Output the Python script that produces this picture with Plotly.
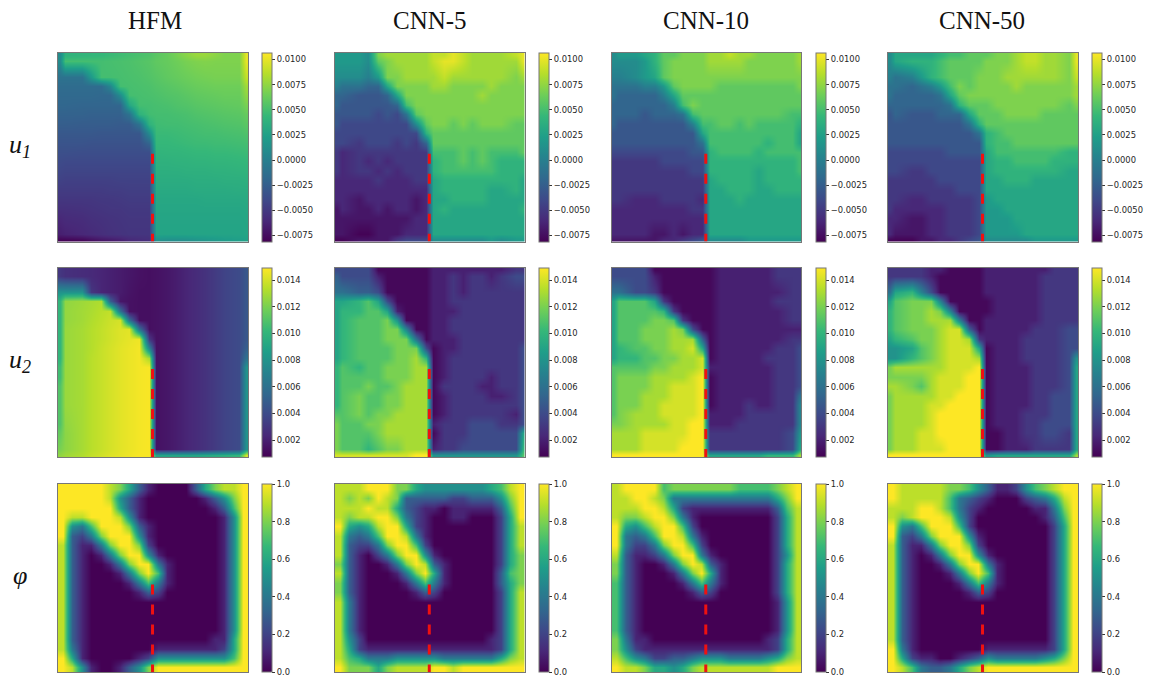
import numpy as np
import plotly.graph_objects as go

column_titles = ["HFM", "CNN-5", "CNN-10", "CNN-50"]
row_titles = ["<i>u<sub>1</sub></i>", "<i>u<sub>2</sub></i>", "<i>φ</i>"]

# sample positions of the displacement grids (tighter at the crack line and the edges)
grid_u_x = [-0.3,0.2,2,3,4,5,6,7,8,9.1,9.8,11,12,13,14,15,16,17,18.6,19.3]
grid_u_y = [-0.3,0.3,2,3,4,5,6,7,8,9,10,11,12,13,14,15,16,17,18.7,19.3]
grid_phi = list(range(20))

# u1 fields, in thousandths, rows from top to bottom
u1_hfm = [
[1,4,4.2,4.3,4.4,4.6,4.8,5,5.2,5.4,5.8,6.2,6.8,7.3,7.8,7.8,7.4,7,7,10],
[1,5,5,5,5,5.1,5.2,5.3,5.5,5.7,6,6.2,6.5,6.8,7,7.1,7,7,7,10],
[-1,-1,-1,2,5,5,5.1,5.2,5.3,5.5,5.7,6,6.2,6.4,6.6,6.7,6.8,6.8,6.8,9],
[-1.5,-1.5,-1.5,-1.5,-1.5,0.5,5,5.1,5.2,5.3,5.5,5.7,5.9,6.1,6.3,6.4,6.5,6.5,6.5,8],
[-1.7,-1.7,-1.7,-1.7,-1.8,-1.8,1,5,5.1,5.2,5.3,5.5,5.6,5.8,6,6.1,6.2,6.3,6.3,7.5],
[-1.9,-1.9,-2,-2,-2,-2,-2,3,5,5,5.1,5.2,5.4,5.5,5.7,5.8,5.9,6,6.1,6.8],
[-2.2,-2.2,-2.2,-2.3,-2.3,-2.3,-2.3,-1,4,4.9,5,5,5.1,5.2,5.4,5.5,5.6,5.7,5.8,6.2],
[-2.5,-2.5,-2.6,-2.6,-2.6,-2.6,-2.7,-2.7,-1,4,4.8,4.9,4.9,5,5.1,5.2,5.3,5.4,5.5,5.8],
[-2.9,-2.9,-2.9,-2.9,-3,-3,-3,-3,-3,1,4.6,4.6,4.7,4.8,4.9,5,5,5.1,5.2,5.4],
[-3.2,-3.2,-3.2,-3.3,-3.3,-3.3,-3.3,-3.3,-3.3,-2,4.4,4.4,4.5,4.6,4.7,4.7,4.8,4.8,4.9,5],
[-3.5,-3.5,-3.6,-3.6,-3.6,-3.6,-3.6,-3.6,-3.6,-3.6,4.1,4.2,4.2,4.3,4.4,4.4,4.5,4.5,4.6,4.7],
[-3.8,-3.9,-3.9,-3.9,-3.9,-3.9,-3.9,-3.9,-3.9,-3.9,3.9,3.9,4,4,4.1,4.1,4.2,4.2,4.3,4.4],
[-4.1,-4.2,-4.2,-4.2,-4.2,-4.2,-4.2,-4.2,-4.2,-4.2,3.7,3.7,3.7,3.8,3.8,3.8,3.9,3.9,4,4.1],
[-4.4,-4.5,-4.5,-4.5,-4.5,-4.5,-4.4,-4.4,-4.4,-4.4,3.5,3.5,3.5,3.5,3.6,3.6,3.6,3.7,3.7,3.8],
[-4.8,-4.8,-4.8,-4.8,-4.8,-4.7,-4.7,-4.6,-4.6,-4.6,3.3,3.3,3.3,3.3,3.4,3.4,3.4,3.4,3.5,3.5],
[-5.1,-5.1,-5.1,-5.1,-5,-5,-4.9,-4.8,-4.8,-4.8,3.1,3.1,3.1,3.1,3.1,3.2,3.2,3.2,3.2,3.3],
[-5.5,-5.5,-5.4,-5.3,-5.2,-5.1,-5.1,-5,-5,-5,3,3,3,3,3,3,3,3,3,3.1],
[-6,-5.8,-5.7,-5.5,-5.4,-5.3,-5.2,-5.1,-5.1,-5.1,2.9,2.9,2.9,2.9,2.9,2.9,2.9,2.9,2.9,3],
[-6.5,-6.3,-6,-5.8,-5.6,-5.4,-5.3,-5.2,-5.2,-5.2,2.8,2.8,2.8,2.8,2.8,2.8,2.8,2.8,2.8,2.9],
[-8,-8,-7.8,-7.4,-7,-6.8,-6.5,-6,-5.8,-5.6,1.5,1.2,1.2,1.3,1.6,1.8,2,2.2,2.4,2.6],
]
u1_cnn5 = [
[2,2,2,1,7,8,8,8,8,8,9,9,10,9,8,8,8,8,9,10],
[2,2,2,1,6,7,8,8,8,8,9,10,10,9,8,8,8,8,8,10],
[1,1,1,0,2,7,7,8,8,8,8,9,8,8,8,8,8,8,7,8],
[0,-1,-1,-2,-2,3,7,7,7,7,8,8,7,7,7,7,8,7,7,7],
[-2,-2,-3,-3,-3,-2,3,7,7,7,7,7,7,7,7,8,7,7,7,7],
[-2,-3,-3,-3,-3,-3,-2,5,7,7,7,7,7,7,7,7,7,7,7,7],
[-3,-3,-3,-3,-4,-3,-4,-1,6,7,7,7,7,7,7,7,7,7,7,7],
[-3,-4,-4,-4,-4,-4,-4,-4,1,6,7,7,6,7,6,7,7,7,6,6],
[-4,-4,-4,-4,-4,-4,-4,-4,-4,4,6,6,6,6,6,6,6,6,6,6],
[-4,-4,-5,-4,-4,-4,-5,-4,-5,-2,6,6,6,6,6,6,6,6,6,6],
[-5,-6,-5,-5,-5,-5,-5,-5,-5,-5,5,5,5,6,5,6,5,5,5,6],
[-5,-6,-5,-6,-5,-6,-5,-5,-5,-5,4,5,5,6,5,6,5,4,4,4],
[-5,-6,-5,-5,-6,-5,-6,-5,-5,-5,4,5,5,5,5,5,5,4,4,4],
[-6,-6,-6,-6,-5,-6,-6,-6,-5,-5,3,4,4,4,4,4,4,4,4,3],
[-6,-6,-6,-6,-6,-6,-6,-6,-6,-6,3,4,4,4,4,4,3,3,4,3],
[-6,-6,-7,-6,-6,-6,-6,-6,-7,-6,3,3,4,4,4,4,3,3,3,3],
[-7,-6,-7,-7,-6,-7,-6,-6,-7,-6,3,4,3,3,3,3,3,3,3,4],
[-7,-7,-7,-7,-7,-7,-7,-7,-6,-6,3,3,3,3,3,3,3,3,3,3],
[-7,-7,-8,-8,-7,-7,-7,-6,-6,-6,3,3,3,3,3,3,3,3,3,3],
[-8,-8,-7,-7,-7,-7,-5,-4,-4,-4,1,1,1,1,1,1,2,1,2,2],
]
u1_cnn10 = [
[1,2,2,3,4,6,6,7,7,7,8,8,9,8,8,7,7,7,7,8],
[1,1,1,2,4,6,7,7,7,7,8,8,8,8,7,7,7,7,7,8],
[0,0,1,2,3,6,7,7,7,7,7,7,7,7,7,7,7,7,7,7],
[-1,-1,-1,0,0,2,6,7,7,7,7,6,6,6,6,6,6,6,6,7],
[-1,-2,-2,-2,-2,0,3,6,6,6,6,6,6,6,6,6,6,6,6,6],
[-2,-2,-2,-2,-2,-2,0,5,7,6,6,6,6,6,6,6,6,6,6,6],
[-2,-2,-2,-3,-2,-2,-2,-1,5,6,6,6,6,6,6,6,6,6,5,5],
[-2,-3,-3,-3,-3,-3,-3,-3,0,5,5,6,6,5,6,5,5,5,5,4],
[-3,-3,-3,-3,-3,-3,-3,-3,-3,3,5,5,5,5,5,5,5,5,5,3],
[-3,-3,-3,-3,-3,-3,-3,-3,-3,-1,5,5,5,5,5,5,4,5,5,3],
[-4,-4,-4,-4,-4,-4,-4,-4,-3,-3,4,5,5,5,5,4,5,5,5,5],
[-5,-5,-5,-5,-5,-4,-4,-4,-4,-4,4,4,4,4,4,4,4,4,4,5],
[-5,-5,-5,-5,-5,-5,-5,-5,-4,-4,4,4,4,4,4,3,4,4,4,5],
[-5,-5,-5,-5,-5,-5,-5,-5,-5,-5,3,4,4,4,4,3,4,4,4,4],
[-5,-5,-5,-5,-5,-5,-5,-5,-5,-5,3,3,4,4,4,3,3,4,4,4],
[-5,-5,-6,-6,-6,-5,-5,-5,-5,-6,3,3,3,4,3,3,3,3,3,3],
[-6,-6,-6,-6,-6,-6,-6,-6,-5,-5,3,3,3,3,3,3,3,3,3,3],
[-6,-6,-6,-6,-6,-6,-6,-6,-6,-6,3,3,3,3,3,3,3,3,3,3],
[-6,-6,-6,-6,-7,-7,-6,-7,-6,-6,3,3,3,3,3,3,3,3,3,3],
[-7,-7,-7,-7,-7,-6,-6,-5,-4,-3,1,1,1,1,2,2,2,2,2,2],
]
u1_cnn50 = [
[1,3,3,3,3,4,5,5,6,6,6,7,7,8,9,9,8,8,7,10],
[1,3,4,4,4,5,6,6,6,6,7,7,7,8,9,9,8,8,7,10],
[0,-1,0,2,4,5,6,6,6,7,7,7,8,8,8,8,8,8,7,9],
[-1,-1,-2,-1,0,2,5,7,6,7,7,7,7,8,7,7,7,7,7,8],
[-1,-2,-2,-2,-2,-1,3,6,7,7,7,7,7,7,7,7,7,7,7,8],
[-2,-2,-2,-2,-2,-2,-1,4,6,6,6,7,7,7,7,7,7,7,6,7],
[-3,-2,-3,-3,-3,-2,-2,-2,3,6,6,6,7,7,7,7,6,6,6,6],
[-3,-3,-3,-3,-3,-3,-3,-3,-1,4,6,6,6,6,6,6,6,6,6,6],
[-3,-3,-3,-3,-3,-3,-3,-3,-3,-1,4,5,6,6,6,6,6,6,6,6],
[-3,-3,-3,-3,-3,-3,-3,-3,-3,-3,4,5,5,6,6,6,6,6,6,6],
[-4,-4,-4,-4,-4,-4,-3,-3,-3,-3,3,5,5,5,5,5,5,5,4,4],
[-4,-4,-4,-4,-4,-4,-4,-4,-4,-4,3,4,4,5,5,5,5,4,4,4],
[-4,-4,-5,-5,-4,-4,-4,-4,-4,-4,3,4,4,4,4,4,4,4,3,3],
[-5,-5,-5,-5,-5,-4,-4,-4,-4,-4,3,3,4,4,4,3,3,3,3,3],
[-5,-5,-5,-5,-5,-5,-5,-4,-4,-4,3,3,3,3,3,3,3,3,3,3],
[-5,-5,-6,-6,-5,-5,-5,-5,-5,-4,2,3,3,3,3,3,3,3,3,3],
[-5,-6,-6,-6,-6,-6,-5,-5,-5,-4,2,2,3,3,3,3,3,3,3,3],
[-6,-6,-7,-7,-6,-6,-5,-5,-5,-4,2,2,2,3,3,3,3,3,3,3],
[-6,-7,-7,-7,-6,-6,-5,-5,-5,-4,2,2,2,2,3,3,3,3,3,3],
[-8,-8,-8,-7,-7,-6,-6,-5,-4,-3,1,1,1,1,1,2,2,2,2,2],
]

# u2 fields, in thousandths
u2_hfm = [
[3,2.7,2.5,2.4,2.2,2,1.8,1.6,1.4,1.3,1.4,1.6,1.9,2.2,2.5,2.8,3.2,3.6,4,4.6],
[3,2.7,2.5,2.4,2.2,2,1.8,1.6,1.4,1.3,1.4,1.6,1.9,2.2,2.5,2.8,3.2,3.6,4,4.6],
[8,8,8,3,2.2,2,1.8,1.5,1.3,1.3,1.4,1.6,1.9,2.2,2.5,2.8,3.2,3.6,4,4.6],
[10,12.5,12.8,13,13.2,5,1.6,1.4,1.3,1.3,1.4,1.6,1.9,2.2,2.5,2.8,3.2,3.6,4,4.6],
[10,12.6,12.9,13.1,13.4,13.6,6,1.4,1.3,1.3,1.4,1.6,1.9,2.2,2.5,2.8,3.2,3.6,4,4.6],
[10,12.6,12.9,13.2,13.5,13.8,14,6,1.3,1.3,1.4,1.6,1.9,2.2,2.5,2.8,3.2,3.6,4,4.6],
[10,12.7,13,13.3,13.6,13.9,14.2,14.3,6,1.3,1.4,1.6,1.9,2.2,2.5,2.8,3.2,3.6,4,4.6],
[10,12.7,13,13.3,13.6,13.9,14.2,14.4,14.6,3,1.4,1.6,1.9,2.2,2.5,2.8,3.2,3.6,4,4.6],
[10,12.7,13,13.3,13.7,14,14.3,14.5,14.7,7,1.4,1.6,1.9,2.2,2.5,2.8,3.2,3.6,4,5],
[10,12.7,13,13.4,13.7,14,14.3,14.5,14.7,13,1.4,1.6,1.9,2.2,2.5,2.8,3.2,3.6,4,6],
[10.5,12.7,13,13.4,13.7,14,14.3,14.5,14.7,14.8,1.4,1.6,1.9,2.2,2.5,2.8,3.2,3.6,4,8],
[10.5,12.7,13,13.4,13.7,14,14.3,14.5,14.7,14.8,1.4,1.6,1.9,2.2,2.5,2.8,3.2,3.6,4,8],
[11,12.7,13,13.4,13.7,14,14.3,14.5,14.7,14.8,1.4,1.6,1.9,2.2,2.5,2.8,3.2,3.6,4,8],
[11,12.7,13,13.4,13.7,14,14.3,14.5,14.7,14.8,1.4,1.6,1.9,2.2,2.5,2.8,3.2,3.6,4,8],
[11,12.7,13,13.4,13.7,14,14.3,14.5,14.7,14.8,1.4,1.6,1.9,2.2,2.5,2.8,3.2,3.6,4,8],
[11,12.6,13,13.4,13.7,14,14.3,14.5,14.7,14.8,1.4,1.6,1.9,2.2,2.5,2.8,3.2,3.6,4,8],
[11,12.5,13,13.4,13.7,14,14.3,14.5,14.7,14.8,1.4,1.6,1.9,2.2,2.5,2.8,3.2,3.6,4,8],
[11.5,12.4,13,13.4,13.7,14,14.3,14.5,14.7,14.8,1.4,1.6,1.9,2.2,2.5,2.8,3.2,3.6,4,8],
[12,12.4,13,13.4,13.7,14,14.3,14.5,14.7,14.8,1.4,1.6,1.9,2.2,2.5,2.8,3.2,3.6,4,8],
[12.5,12.8,13.2,13.6,13.9,14.2,14.4,14.6,14.8,14.8,9,9,9,9,9,9.2,9.4,9.6,10,14],
]
u2_cnn5 = [
[4,4,4,4,1,1,1,1,1,1,2,2,2,2,2,2,2,2,3,3],
[5,4,4,4,2,1,1,1,1,1,2,2,3,2,3,3,2,3,4,4],
[6,6,5,5,4,1,1,1,1,1,2,2,3,2,3,3,3,3,3,3],
[9,9,10,11,9,4,1,1,1,1,2,2,3,3,3,3,3,3,3,3],
[9,10,10,11,11,9,2,1,1,1,2,2,2,3,3,3,3,3,3,3],
[9,10,11,11,11,12,8,1,1,1,2,2,3,3,3,3,3,3,3,3],
[9,10,11,11,11,12,12,7,1,1,2,2,3,3,3,3,3,3,3,3],
[9,10,11,11,11,12,12,12,6,1,2,2,2,3,3,3,3,3,3,3],
[9,10,11,11,11,11,12,12,12,4,1,2,2,3,3,3,3,3,3,4],
[9,10,11,11,11,11,12,12,13,10,1,2,3,3,3,3,3,3,3,4],
[10,11,10,11,11,12,12,12,13,13,1,2,3,3,3,3,3,3,3,4],
[10,11,11,11,11,12,12,12,13,13,1,2,3,3,3,3,2,3,3,4],
[10,11,11,12,11,11,12,13,13,13,1,3,3,3,3,2,2,3,3,4],
[10,11,12,11,11,12,12,13,13,13,1,2,3,3,3,3,2,2,3,4],
[10,11,12,11,11,12,12,13,13,13,1,2,3,3,3,3,3,3,3,4],
[11,11,12,11,12,12,13,13,13,13,1,2,3,3,3,3,3,3,2,4],
[12,11,11,12,12,13,13,13,13,13,2,3,3,3,4,4,4,3,3,4],
[12,11,11,11,12,13,13,13,13,13,1,3,3,3,4,4,4,4,4,9],
[12,11,11,10,11,12,12,13,13,13,2,3,3,4,4,4,4,4,4,10],
[14,14,14,14,14,14,14,14,15,15,8,8,8,8,8,8,8,8,8,11],
]
u2_cnn10 = [
[4,4,4,4,1,1,1,1,1,1,1,2,2,2,2,2,2,3,3,3],
[4,4,4,4,2,1,1,1,1,1,1,2,2,2,2,2,2,3,3,3],
[6,6,4,4,3,1,1,1,1,1,1,2,2,2,2,2,2,2,3,3],
[9,11,11,11,9,3,1,1,1,1,1,2,2,2,2,2,2,3,3,3],
[9,11,11,11,11,10,3,1,1,1,1,2,2,2,2,2,2,2,3,3],
[9,11,11,11,12,12,11,3,1,1,1,2,2,2,2,2,2,2,3,3],
[9,11,11,12,12,12,13,12,4,1,1,2,2,2,2,2,2,2,2,2],
[9,11,11,12,12,12,13,13,13,5,1,2,2,2,2,2,2,2,3,3],
[9,10,11,11,12,12,13,13,14,9,1,2,2,2,2,2,2,3,3,4],
[9,10,10,11,11,12,12,13,13,14,1,2,2,2,2,2,3,3,3,4],
[11,11,11,11,12,12,13,13,13,14,2,2,2,2,2,2,2,3,3,4],
[11,12,12,12,13,13,13,13,14,15,1,2,2,2,2,2,2,3,3,4],
[11,12,12,12,13,13,14,14,14,15,1,2,2,2,2,2,2,3,3,4],
[11,12,12,13,13,13,14,14,14,15,1,2,2,2,2,2,2,3,3,6],
[11,12,12,13,13,14,14,14,14,15,1,2,2,2,3,2,2,3,3,7],
[11,12,13,13,13,14,14,14,14,15,2,2,2,2,3,3,3,3,3,7],
[12,12,13,13,13,13,14,14,15,15,2,2,2,3,3,3,3,3,3,7],
[13,13,13,14,14,14,14,14,15,15,3,3,3,3,3,3,3,3,4,8],
[13,13,13,14,14,14,14,15,15,15,3,3,3,3,3,3,3,3,4,9],
[15,15,15,15,15,15,15,15,15,15,9,9,9,9,9,9,10,10,10,13],
]
u2_cnn50 = [
[3,3,3,3,2,2,1,1,1,1,2,2,2,2,2,2,2,3,3,3],
[3,3,3,3,2,1,1,1,1,1,2,2,2,2,2,2,3,3,3,3],
[6,9,10,7,4,1,1,1,1,1,2,2,2,2,2,2,3,3,3,3],
[9,11,12,12,12,7,1,1,1,1,1,2,2,2,2,2,3,3,3,3],
[10,11,12,12,13,12,7,1,1,1,1,2,2,2,2,2,3,3,3,3],
[10,11,12,12,13,13,13,7,1,1,2,2,2,2,2,2,3,3,3,3],
[10,11,12,12,12,13,14,14,5,1,2,2,2,2,2,3,3,3,4,4],
[9,10,11,12,12,13,14,14,13,3,2,2,2,2,3,3,3,3,4,4],
[8,8,9,11,12,13,14,14,14,9,1,2,2,2,3,3,3,3,4,4],
[8,8,10,11,12,13,14,14,14,13,1,2,2,2,3,3,3,3,4,8],
[12,13,13,13,13,13,14,14,14,15,1,2,2,2,2,3,3,3,4,9],
[12,12,12,12,13,14,14,14,15,15,1,2,2,2,2,3,3,3,4,9],
[13,13,12,11,13,14,14,14,15,15,1,2,2,2,2,3,3,3,4,9],
[12,13,13,13,13,14,14,15,15,15,1,2,2,2,2,3,3,4,4,9],
[12,13,13,13,14,14,15,15,15,15,1,2,2,2,2,3,3,4,4,9],
[12,13,13,13,14,15,15,15,15,15,1,2,2,2,3,3,3,4,4,9],
[12,13,13,13,14,15,15,15,15,15,1,2,2,2,3,3,4,4,4,9],
[12,13,13,14,14,15,15,15,15,15,1,1,2,2,3,3,4,4,3,9],
[12,13,13,14,14,14,15,15,15,15,1,1,2,2,2,3,3,3,3,9],
[15,15,15,15,15,15,15,15,15,15,8,9,9,9,9,9,9,9,9,13],
]

# phase field, in tenths
phi_hfm = [
[10,10,10,10,10,9,8,6,3,1,0,0,0,0,3,6,8,9,9,10],
[10,10,10,10,10,9,5,3,1,0,0,0,0,0,0,1,3,5,8,10],
[10,10,10,10,10,10,6,3,1,0,0,0,0,0,0,0,1,3,7,10],
[10,9,9,10,10,10,9,5,1,0,0,0,0,0,0,0,0,1,5,10],
[10,5,4,7,10,10,10,8,3,1,0,0,0,0,0,0,0,1,5,10],
[10,3,2,4,8,10,10,10,5,1,0,0,0,0,0,0,0,1,5,10],
[9,3,1,1,4,8,10,10,8,2,0,0,0,0,0,0,0,1,5,10],
[9,3,1,0,1,4,8,10,10,5,1,0,0,0,0,0,0,1,5,10],
[9,3,1,0,0,1,4,8,10,10,4,1,0,0,0,0,0,1,5,10],
[9,3,1,0,0,0,1,4,8,10,7,1,0,0,0,0,0,1,5,10],
[9,3,1,0,0,0,0,1,4,7,4,1,0,0,0,0,0,1,5,10],
[9,3,1,0,0,0,0,0,1,3,2,0,0,0,0,0,0,1,5,10],
[9,3,1,0,0,0,0,0,0,0,0,0,0,0,0,0,0,1,5,10],
[9,3,1,0,0,0,0,0,0,0,0,0,0,0,0,0,0,1,5,10],
[9,3,1,0,0,0,0,0,0,0,0,0,0,0,0,0,0,1,5,10],
[9,3,1,0,0,0,0,0,0,0,0,0,0,0,0,0,0,1,5,10],
[9,3,1,0,0,0,0,0,0,0,0,0,0,0,0,0,1,1,6,10],
[9,4,1,0,0,0,0,0,0,0,1,1,1,1,1,1,1,2,6,10],
[10,6,1,0,0,0,0,0,1,2,5,5,5,5,5,5,5,5,7,10],
[10,9,5,1,0,0,1,3,5,8,10,10,10,10,10,10,10,10,10,10],
]
phi_cnn5 = [
[9,9,9,10,10,10,8,8,6,5,5,5,5,5,5,5,6,7,9,10],
[9,8,9,8,10,9,8,3,3,3,3,3,2,2,3,3,3,5,8,10],
[9,9,9,10,9,9,6,3,2,1,1,0,1,1,1,1,1,3,7,10],
[9,8,9,9,10,10,8,4,2,1,0,0,1,1,0,0,0,2,6,10],
[10,6,5,6,9,10,10,6,2,1,0,0,0,0,0,0,0,2,6,9],
[9,4,3,4,7,10,10,9,4,1,0,0,0,0,0,0,0,2,6,9],
[9,3,2,2,4,8,10,10,7,2,0,0,0,0,0,0,0,2,6,9],
[9,3,1,0,2,4,8,10,10,5,1,0,0,0,0,0,0,2,6,8],
[8,3,1,0,0,1,4,8,10,9,3,1,0,0,0,0,0,2,6,8],
[9,3,1,0,0,0,1,4,8,10,6,1,0,0,0,0,0,3,7,8],
[8,3,1,0,0,0,0,1,4,7,4,1,0,0,0,0,0,3,6,8],
[8,3,1,0,0,0,0,0,1,3,2,0,0,0,0,0,0,2,6,9],
[9,4,1,0,0,0,0,0,0,0,0,0,0,0,0,0,0,2,6,9],
[9,4,1,0,0,0,0,0,0,0,0,0,0,0,0,0,0,2,6,9],
[9,4,1,0,0,0,0,0,0,0,0,0,0,0,0,0,0,2,6,9],
[9,4,1,0,0,0,0,0,0,0,0,0,0,0,0,0,0,2,6,9],
[9,5,2,0,0,0,0,0,0,0,0,0,0,0,0,0,1,2,6,9],
[9,6,2,1,1,1,1,1,1,1,1,1,1,1,1,1,1,2,6,9],
[9,7,6,4,4,4,5,5,5,5,5,4,4,4,4,4,4,6,8,9],
[10,8,8,8,6,8,9,9,9,9,10,10,9,10,10,10,10,10,10,10],
]
phi_cnn10 = [
[9,10,10,10,10,7,8,8,8,8,8,8,8,7,7,7,7,8,9,10],
[9,9,10,10,9,8,4,4,4,4,4,4,4,4,4,4,4,6,8,10],
[9,9,9,10,10,9,6,2,1,1,1,1,1,1,1,1,1,3,7,9],
[9,8,8,9,10,10,8,4,1,0,0,0,0,0,0,0,0,2,6,9],
[10,6,5,7,9,10,10,7,2,0,0,0,0,0,0,0,0,2,6,9],
[10,4,3,4,7,10,10,9,4,1,0,0,0,0,0,0,0,2,6,9],
[10,4,2,2,4,8,10,10,7,2,0,0,0,0,0,0,0,2,6,9],
[9,3,1,1,2,4,8,10,10,4,1,0,0,0,0,0,0,2,5,9],
[8,3,1,0,0,1,4,8,10,9,3,1,0,0,0,0,0,2,6,9],
[8,3,1,0,0,0,1,4,8,10,6,1,0,0,0,0,0,2,6,9],
[7,3,1,0,0,0,0,1,4,7,4,1,0,0,0,0,0,2,6,9],
[7,3,1,0,0,0,0,0,1,3,2,0,0,0,0,0,0,2,6,9],
[7,3,1,0,0,0,0,0,0,0,0,0,0,0,0,0,0,1,5,9],
[7,3,1,0,0,0,0,0,0,0,0,0,0,0,0,0,0,1,5,9],
[7,3,1,0,0,0,0,0,0,0,0,0,0,0,0,0,0,1,5,9],
[7,3,1,0,0,0,0,0,0,0,0,0,0,0,0,0,0,1,5,9],
[8,4,1,1,0,0,0,0,0,0,0,0,0,0,0,0,1,2,6,9],
[8,5,2,1,1,1,1,1,1,1,1,1,1,1,1,1,1,2,6,9],
[9,7,5,4,2,2,3,3,4,5,5,5,4,4,4,4,5,6,8,9],
[10,9,9,8,6,6,5,6,8,9,9,9,9,9,9,9,9,10,10,10],
]
phi_cnn50 = [
[10,9,9,9,9,9,8,8,7,5,3,1,1,2,5,7,8,9,10,10],
[10,9,9,9,9,9,7,4,3,2,1,0,0,0,2,3,4,6,9,10],
[9,9,9,10,10,9,7,4,2,1,0,0,0,0,0,1,1,4,8,10],
[9,8,9,10,10,10,9,5,2,0,0,0,0,0,0,0,1,3,7,10],
[10,5,4,7,10,10,10,7,2,0,0,0,0,0,0,0,0,2,6,10],
[10,3,2,4,8,10,10,10,5,1,0,0,0,0,0,0,0,2,6,10],
[9,3,1,1,4,8,10,10,8,2,0,0,0,0,0,0,0,2,6,10],
[9,3,1,0,1,4,8,10,10,5,1,0,0,0,0,0,0,2,6,10],
[9,3,1,0,0,1,4,8,10,10,4,1,0,0,0,0,0,2,6,10],
[9,3,1,0,0,0,1,4,8,10,7,1,0,0,0,0,0,2,6,10],
[9,3,1,0,0,0,0,1,4,7,4,1,0,0,0,0,0,2,6,10],
[9,3,1,0,0,0,0,0,1,3,2,0,0,0,0,0,0,2,6,10],
[9,3,1,0,0,0,0,0,0,0,0,0,0,0,0,0,0,2,6,10],
[9,3,1,0,0,0,0,0,0,0,0,0,0,0,0,0,0,2,6,10],
[9,3,1,0,0,0,0,0,0,0,0,0,0,0,0,0,0,2,6,10],
[9,3,1,0,0,0,0,0,0,0,0,0,0,0,0,0,0,2,6,10],
[9,3,1,0,0,0,0,0,0,0,0,0,0,0,0,0,0,2,6,10],
[10,4,1,0,0,0,0,0,0,0,1,1,1,1,1,1,1,2,6,10],
[10,6,2,1,1,0,0,1,2,3,5,4,4,4,4,4,5,6,8,10],
[10,9,7,4,3,3,4,6,8,9,10,10,10,10,10,10,10,10,10,10],
]

fields = [
    [u1_hfm, u1_cnn5, u1_cnn10, u1_cnn50],
    [u2_hfm, u2_cnn5, u2_cnn10, u2_cnn50],
    [phi_hfm, phi_cnn5, phi_cnn10, phi_cnn50],
]
grids_x = [grid_u_x, grid_u_x, grid_phi]
grids_y = [grid_u_y, grid_u_y, grid_phi]
field_scale = [0.001, 0.001, 0.1]
z_min = [-0.0081, 0.00073, 0.0]
z_max = [0.0107, 0.0149, 1.0]
tick_values = [
    [-0.0075, -0.005, -0.0025, 0.0, 0.0025, 0.005, 0.0075, 0.01],
    [0.002, 0.004, 0.006, 0.008, 0.01, 0.012, 0.014],
    [0.0, 0.2, 0.4, 0.6, 0.8, 1.0],
]
tick_formats = [".4f", ".3f", ".1f"]

crack_x = [9.45, 9.45]
crack_y = [10.2, 19.5]

W, H = 1152, 680
col_left = [58, 335, 611.5, 888]
col_right = [248, 524.5, 801, 1078]
bar_left = [262, 539, 816, 1092]
row_top = [53, 268, 484]
row_bottom = [241.5, 457, 672]
title_x = [155, 430, 706, 982]
label_y = [146, 361, 575]

fig = go.Figure()
layout = {}
n = 0
for r in range(3):
    for c in range(4):
        n += 1
        z = np.array(fields[r][c], dtype=float) * field_scale[r]
        fig.add_trace(go.Heatmap(
            z=z, x=grids_x[r], y=grids_y[r], xaxis=f"x{n}", yaxis=f"y{n}", colorscale="Viridis",
            zmin=z_min[r], zmax=z_max[r], zsmooth="best",
            colorbar=dict(
                x=bar_left[c] / W, xanchor="left", xpad=0, ypad=0,
                y=1 - row_bottom[r] / H, yanchor="bottom",
                len=(row_bottom[r] - row_top[r]) / H, lenmode="fraction",
                thickness=10, thicknessmode="pixels",
                outlinecolor="#777777", outlinewidth=1,
                tickmode="array", tickvals=tick_values[r],
                tickformat=tick_formats[r], ticks="outside", ticklen=3,
                tickwidth=1, tickcolor="#333333",
                tickfont=dict(family="DejaVu Sans", size=8.4, color="#262626"),
            ),
        ))
        fig.add_trace(go.Scatter(
            x=crack_x, y=crack_y, xaxis=f"x{n}", yaxis=f"y{n}", mode="lines",
            line=dict(color="#ee1111", width=3, dash="10px,10px"),
            showlegend=False,
        ))
        axis = dict(showgrid=False, zeroline=False, showticklabels=False, ticks="",
                    showline=True, mirror=True, linecolor="#777777", linewidth=1)
        layout[f"xaxis{n}"] = dict(axis, domain=[col_left[c] / W, col_right[c] / W],
                                   range=[-0.5, 19.5], anchor=f"y{n}")
        layout[f"yaxis{n}"] = dict(axis, domain=[1 - row_bottom[r] / H, 1 - row_top[r] / H],
                                   range=[19.5, -0.5], anchor=f"x{n}")

annotations = []
for c, text in enumerate(column_titles):
    annotations.append(dict(text=text, x=title_x[c] / W, y=1 - 20 / H, xref="paper", yref="paper",
                            showarrow=False, xanchor="center", yanchor="middle",
                            font=dict(family="Liberation Serif", size=25, color="#111111")))
for r, text in enumerate(row_titles):
    annotations.append(dict(text=text, x=20 / W, y=1 - label_y[r] / H, xref="paper", yref="paper",
                            showarrow=False, xanchor="center", yanchor="middle",
                            font=dict(family="Liberation Serif", size=26, color="#111111")))

fig.update_layout(width=W, height=H, margin=dict(l=0, r=0, t=0, b=0),
                  paper_bgcolor="white", plot_bgcolor="white", showlegend=False,
                  annotations=annotations, **layout)
fig.write_html("out.html", config={"displayModeBar": False},
               post_script="document.body.style.margin='0';document.documentElement.style.overflow='hidden';")
